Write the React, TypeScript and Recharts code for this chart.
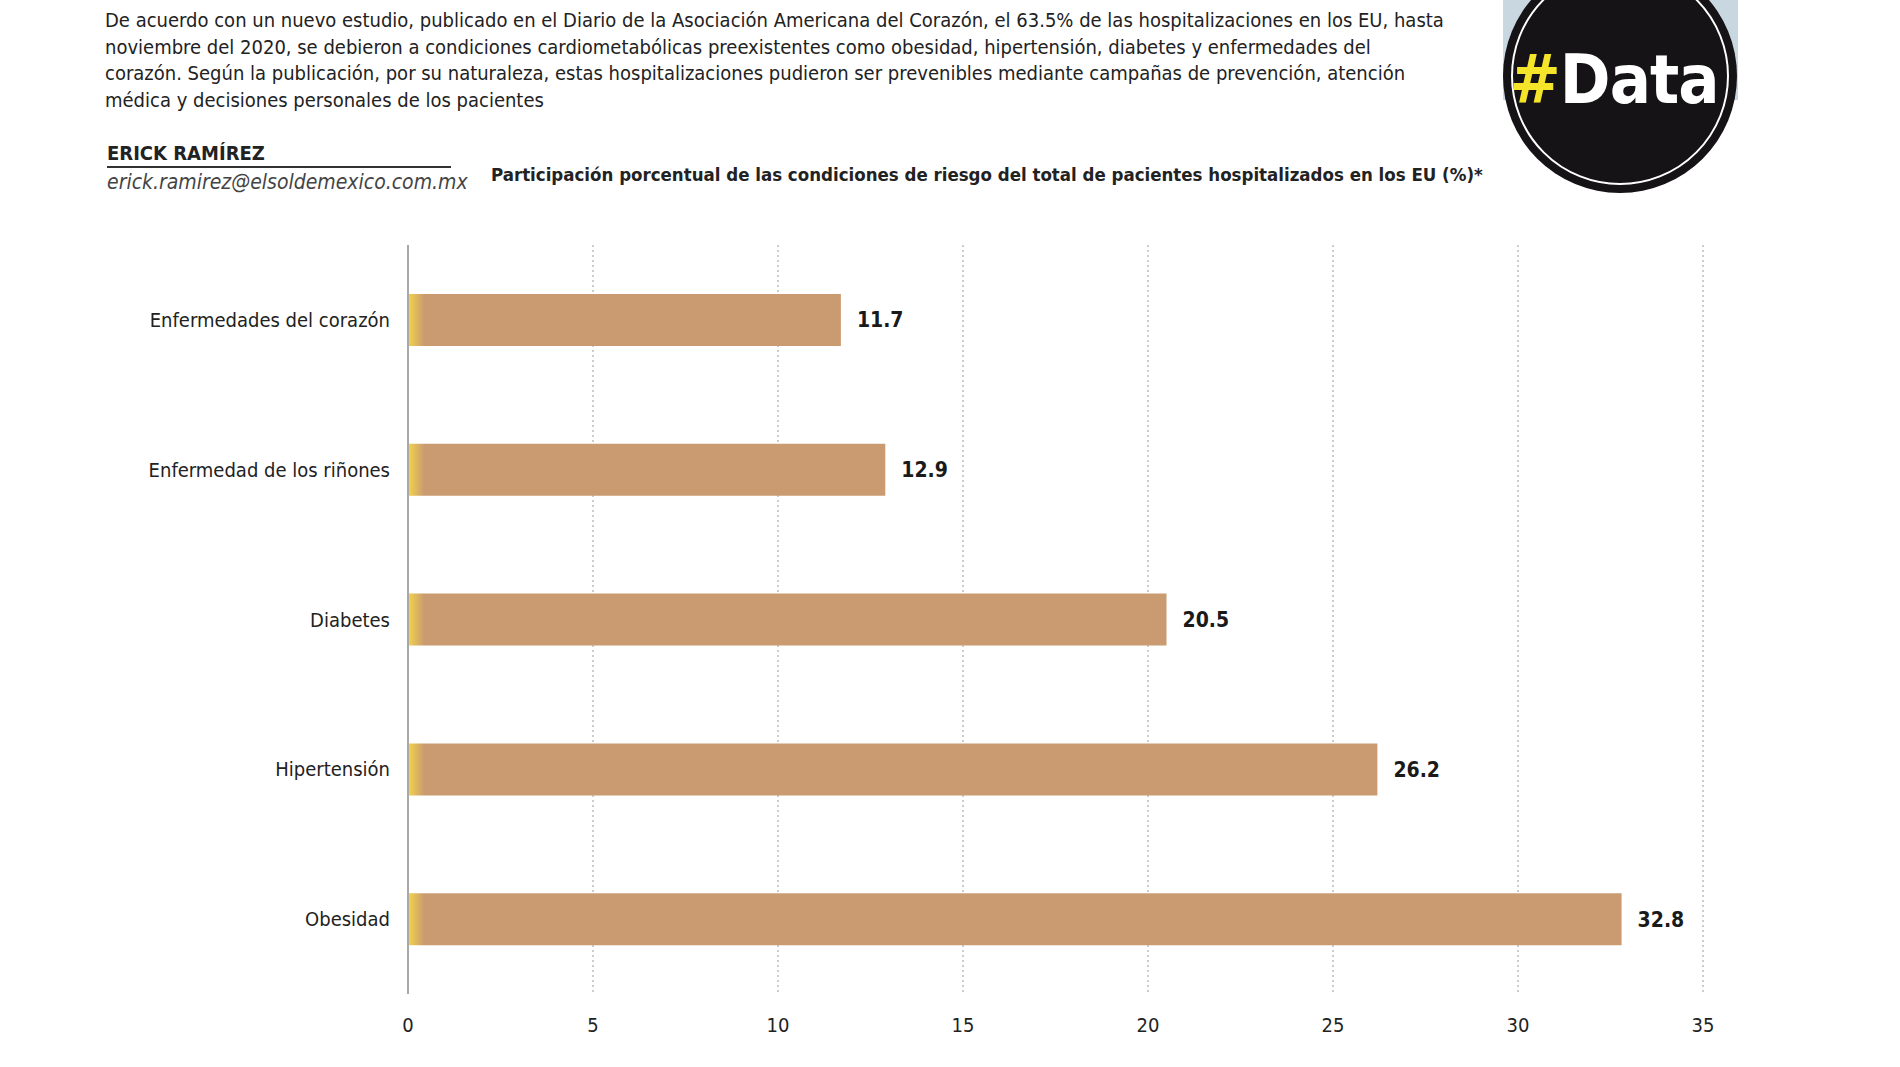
import { BarChart, Bar, XAxis, YAxis, CartesianGrid, LabelList } from "recharts"

const categories = [
  "Enfermedades del corazón",
  "Enfermedad de los riñones",
  "Diabetes",
  "Hipertensión",
  "Obesidad",
]
const values = [11.7, 12.9, 20.5, 26.2, 32.8]
const xTicks = [0, 5, 10, 15, 20, 25, 30, 35]

const chartData = categories.map((name, i) => ({ name, value: values[i] }))

const FONT = '"DejaVu Sans Condensed", "Noto Sans", sans-serif'

function XTick(props: any) {
  const { x, y, payload } = props
  return (
    <text x={x} y={y + 30} textAnchor="middle" fontSize={20} fill="#222" fontFamily={FONT}>
      {payload.value}
    </text>
  )
}

function YTick(props: any) {
  const { x, y, payload } = props
  return (
    <text x={x - 10} y={y + 7} textAnchor="end" fontSize={20} fill="#222" fontFamily={FONT}>
      {payload.value}
    </text>
  )
}

function Logo() {
  return (
    <svg width={260} height={200} style={{ position: "absolute", left: 1490, top: 0 }}>
      <rect x={13} y={0} width={235} height={100} fill="#c9d7e1" />
      <circle cx={130} cy={76} r={117} fill="#151315" />
      <circle cx={130} cy={76} r={108} fill="none" stroke="#fff" strokeWidth={2} />
      <text x={124} y={103} textAnchor="middle" fontSize={68} fontWeight="bold" fontFamily={FONT} letterSpacing={-1}>
        <tspan fill="#f5e52a">#</tspan>
        <tspan fill="#fff">Data</tspan>
      </text>
    </svg>
  )
}

export default function App() {
  return (
    <div style={{ position: "absolute", left: 0, top: 0, width: 1900, height: 1067, background: "#fff", overflow: "hidden", fontFamily: FONT }}>
      <div style={{ position: "absolute", left: 105, top: 7, fontSize: 20, lineHeight: "26.5px", color: "#222" }}>
        De acuerdo con un nuevo estudio, publicado en el Diario de la Asociación Americana del Corazón, el 63.5% de las hospitalizaciones en los EU, hasta<br />
        noviembre del 2020, se debieron a condiciones cardiometabólicas preexistentes como obesidad, hipertensión, diabetes y enfermedades del<br />
        corazón. Según la publicación, por su naturaleza, estas hospitalizaciones pudieron ser prevenibles mediante campañas de prevención, atención<br />
        médica y decisiones personales de los pacientes
      </div>
      <div style={{ position: "absolute", left: 107, top: 141, fontSize: 20, fontWeight: "bold", color: "#222" }}>ERICK RAMÍREZ</div>
      <div style={{ position: "absolute", left: 107, top: 166, width: 344, borderTop: "2px solid #333" }} />
      <div style={{ position: "absolute", left: 107, top: 170, fontSize: 21, color: "#444", fontStyle: "italic" }}>
        erick.ramirez@elsoldemexico.com.mx
      </div>
      <div style={{ position: "absolute", left: 491, top: 164, fontSize: 18.5, fontWeight: "bold", color: "#222" }}>
        Participación porcentual de las condiciones de riesgo del total de pacientes hospitalizados en los EU (%)*
      </div>
      <Logo />
      <div style={{ position: "absolute", left: 0, top: 0 }}>
        <BarChart
          width={1900}
          height={1067}
          data={chartData}
          layout="vertical"
          margin={{ top: 245, right: 197, bottom: 33, left: 108 }}
        >
          <defs>
            <linearGradient id="barFill" gradientUnits="userSpaceOnUse" x1={408} y1={0} x2={424} y2={0}>
              <stop offset="0" stopColor="#f3d54a" />
              <stop offset="1" stopColor="#ca9b70" />
            </linearGradient>
          </defs>
          <CartesianGrid vertical horizontal={false} stroke="#9a9a9a" strokeDasharray="2 3" />
          <XAxis
            type="number"
            domain={[0, 35]}
            ticks={xTicks}
            height={40}
            axisLine={false}
            tickLine={false}
            tick={<XTick />}
          />
          <YAxis
            type="category"
            dataKey="name"
            width={300}
            axisLine={{ stroke: "#a8a8a8", strokeWidth: 2 }}
            tickLine={false}
            tick={<YTick />}
          />
          <Bar dataKey="value" barSize={52} fill="url(#barFill)" isAnimationActive={false}>
            <LabelList
              dataKey="value"
              position="right"
              offset={16}
              fill="#1a1a1a"
              fontSize={21}
              fontWeight="bold"
              fontFamily={FONT}
            />
          </Bar>
        </BarChart>
      </div>
    </div>
  )
}
